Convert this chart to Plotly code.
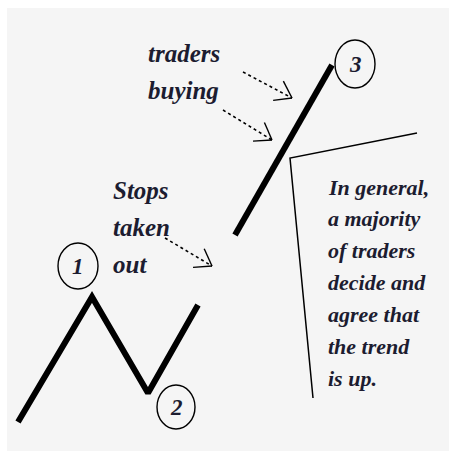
import math
import plotly.graph_objects as go

W, H = 449, 451

# price path (page pixel coordinates of the drawing)
zigzag_x = [18, 92, 148, 198]
zigzag_y = [422, 297, 393, 305]
trend_x = [235, 332]
trend_y = [235, 65]
callout_x = [417, 290, 313]
callout_y = [133, 158, 398]

# circled labels
circle_labels = ["1", "2", "3"]
circle_cx = [78, 176, 355]
circle_cy = [266, 407, 64]
circle_rx = [20, 19, 20]
circle_ry = [23, 22, 24]

# dotted arrows
arrow_x0 = [243, 223, 165]
arrow_y0 = [72, 110, 238]
arrow_x1 = [292, 272, 212]
arrow_y1 = [98, 140, 266]

# text blocks
text_lines = [
    ("traders", 146, 53),
    ("buying", 146, 90),
    ("Stops", 111, 190),
    ("taken", 111, 227),
    ("out", 111, 264),
]
note_lines = ["In general,", "a majority", "of traders", "decide and",
              "agree that", "the trend", "is up."]
note_x = 326
note_y = [187, 218, 250, 282, 314, 346, 378]

fig = go.Figure()

fig.add_trace(go.Scatter(x=zigzag_x, y=zigzag_y, mode="lines",
                         line=dict(color="black", width=6), hoverinfo="skip"))
fig.add_trace(go.Scatter(x=trend_x, y=trend_y, mode="lines",
                         line=dict(color="black", width=6), hoverinfo="skip"))
fig.add_trace(go.Scatter(x=callout_x, y=callout_y, mode="lines",
                         line=dict(color="black", width=1.5), hoverinfo="skip"))

for x0, y0, x1, y1 in zip(arrow_x0, arrow_y0, arrow_x1, arrow_y1):
    fig.add_trace(go.Scatter(x=[x0, x1], y=[y0, y1], mode="lines",
                             line=dict(color="black", width=1.6, dash="dot"),
                             hoverinfo="skip"))
    ang = math.atan2(y1 - y0, x1 - x0)
    hx, hy = [], []
    for d in (math.radians(35), -math.radians(35)):
        hx += [x1, x1 - 19 * math.cos(ang + d), None]
        hy += [y1, y1 - 19 * math.sin(ang + d), None]
    fig.add_trace(go.Scatter(x=hx, y=hy, mode="lines",
                             line=dict(color="black", width=1.4),
                             hoverinfo="skip"))

shapes = [dict(type="rect", xref="x", yref="y", x0=7, y0=8, x1=W + 20, y1=H + 20,
               fillcolor="#f5f5f5", line=dict(width=0), layer="below")]
for lab, cx, cy, rx, ry in zip(circle_labels, circle_cx, circle_cy, circle_rx, circle_ry):
    shapes.append(dict(type="circle", xref="x", yref="y",
                       x0=cx - rx, x1=cx + rx, y0=cy - ry, y1=cy + ry,
                       line=dict(color="black", width=1.4)))

font = dict(family="Liberation Serif", size=25, color="#1c1c30",
            weight="bold", style="italic")
annotations = []
for t, x, y in text_lines:
    annotations.append(dict(x=x, y=y, xref="x", yref="y", text=t, showarrow=False,
                            xanchor="left", yanchor="middle", font=font))
for t, y in zip(note_lines, note_y):
    annotations.append(dict(x=note_x, y=y, xref="x", yref="y", text=t, showarrow=False,
                            xanchor="left", yanchor="middle",
                            font=dict(font, size=22)))
for lab, cx, cy in zip(circle_labels, circle_cx, circle_cy):
    annotations.append(dict(x=cx, y=cy, xref="x", yref="y", text=lab, showarrow=False,
                            xanchor="center", yanchor="middle",
                            font=dict(font, size=23)))

fig.update_layout(
    width=W, height=H, margin=dict(l=0, r=0, t=0, b=0),
    paper_bgcolor="white", plot_bgcolor="white", showlegend=False,
    xaxis=dict(range=[0, W], visible=False, fixedrange=True),
    yaxis=dict(range=[H, 0], visible=False, fixedrange=True),
    shapes=shapes, annotations=annotations,
)
fig.write_html(
    "out.html",
    config={"displayModeBar": False},
    post_script=(
        "document.body.style.margin='0px';"
        "document.body.style.overflow='hidden';"
        "document.body.style.background='#f5f5f5';"
        "document.documentElement.style.background='#f5f5f5';"
    ),
)
